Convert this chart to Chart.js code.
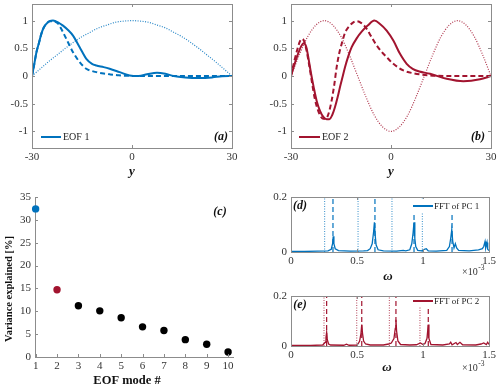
<!DOCTYPE html>
<html>
<head>
<meta charset="utf-8">
<script src="https://cdn.jsdelivr.net/npm/chart.js@4.4.1/dist/chart.umd.min.js"></script>
<style>
  body { margin: 0; background: #fff; }
  #wrap { position: relative; width: 500px; height: 389px; }
  .pn { position: absolute; }
</style>
</head>
<body>
<div id="wrap">
  <div class="pn" style="left:0;top:0"><canvas id="cA" width="250" height="180"></canvas></div>
  <div class="pn" style="left:250px;top:0"><canvas id="cB" width="250" height="180"></canvas></div>
  <div class="pn" style="left:0;top:180px"><canvas id="cC" width="250" height="209"></canvas></div>
  <div class="pn" style="left:250px;top:180px"><canvas id="cD" width="250" height="110"></canvas></div>
  <div class="pn" style="left:250px;top:280px"><canvas id="cE" width="250" height="109"></canvas></div>
</div>
<script>
// ---- data ----
// (a) EOF 1
const gridY = [-30,-27.5,-25,-22.5,-20,-17.5,-15,-12.5,-10,-7.5,-5,-2.5,0,2.5,5,7.5,10,12.5,15,17.5,20,22.5,25,27.5,30];
const eof1Dotted = [0,0.13,0.26,0.38,0.5,0.61,0.71,0.79,0.87,0.92,0.97,0.99,1,0.99,0.97,0.92,0.87,0.79,0.71,0.61,0.5,0.38,0.26,0.13,0];
const eof1SolidX = [-30,-29.3,-28.7,-27.9,-27.2,-26.5,-25.7,-24.7,-23.7,-22.2,-20.7,-19.2,-17.7,-15.7,-13.7,-12,-10.7,-8.5,-6.7,-3.7,-0.7,2,4.5,7.5,10,12.5,16,20,24,27,30];
const eof1SolidV = [0,0.22,0.42,0.6,0.76,0.87,0.94,0.99,1.0,0.97,0.91,0.83,0.73,0.52,0.31,0.22,0.19,0.16,0.13,0.07,0.01,0.0,0.03,0.06,0.04,0.0,-0.025,-0.035,-0.025,-0.005,0];
const eof1DashX = [-30,-29.3,-28.7,-27.9,-27.2,-26.5,-25.7,-24.7,-23.7,-22.1,-20.7,-19.2,-17.7,-15.7,-13.7,-12,-10.7,-8.5,-6.7,-4,-1,2,30];
const eof1DashV = [0,0.22,0.42,0.6,0.76,0.87,0.94,0.99,0.99,0.94,0.79,0.61,0.43,0.25,0.13,0.09,0.07,0.045,0.03,0.012,0.003,0,0];

// (b) EOF 2
const eof2Dotted = [0,0.38,0.71,0.92,1,0.92,0.71,0.38,0,-0.38,-0.71,-0.92,-1,-0.92,-0.71,-0.38,0,0.38,0.71,0.92,1,0.92,0.71,0.38,0];
const eof2SolidX = [-30,-29,-28,-27,-26.2,-25.4,-24.7,-24,-23.2,-22.3,-21.3,-20.3,-19.3,-18.5,-17.6,-16.8,-16,-15.3,-14.5,-13.8,-12.8,-11.8,-10.3,-8.8,-7,-5,-3.3,-1.3,0.7,2.7,4.7,6.5,8.5,11.7,16.7,21.7,26.7,30];
const eof2SolidV = [0,0.2,0.38,0.53,0.59,0.52,0.3,0.05,-0.2,-0.45,-0.63,-0.74,-0.78,-0.78,-0.7,-0.56,-0.38,-0.2,-0.01,0.16,0.36,0.52,0.68,0.8,0.91,1.0,0.94,0.82,0.64,0.4,0.22,0.13,0.08,0.04,-0.05,-0.095,-0.06,0];
const eof2DashX = [-30,-29,-28,-27.3,-26.7,-26,-25.3,-24.5,-23.7,-22.9,-22,-21.2,-20.4,-19.6,-18.8,-17.8,-17,-16.3,-15.5,-14.8,-13.8,-12.8,-11.5,-10.3,-9,-7.5,-6,-4.5,-3,-1.3,0.7,3.7,6.7,11.7,20,30];
const eof2DashV = [0,0.27,0.5,0.63,0.67,0.62,0.45,0.18,-0.12,-0.4,-0.6,-0.72,-0.77,-0.77,-0.69,-0.44,-0.15,0.16,0.42,0.58,0.78,0.88,0.96,0.99,0.96,0.87,0.72,0.57,0.45,0.34,0.22,0.1,0.05,0.01,0,0];

// (c) variance explained
const modeNo = [1,2,3,4,5,6,7,8,9,10];
const varExplained = [32.4,14.7,11.2,10.1,8.6,6.6,5.8,3.8,2.8,1.1];

// (d) FFT of PC 1 (omega in 1e-3)
const pc1W = [0,0.1,0.2,0.28,0.305,0.315,0.32,0.325,0.335,0.36,0.45,0.55,0.58,0.6,0.615,0.625,0.632,0.638,0.645,0.66,0.7,0.8,0.85,0.87,0.9,0.915,0.925,0.932,0.938,0.945,0.96,0.99,1.01,1.025,1.04,1.1,1.18,1.2,1.21,1.218,1.225,1.235,1.245,1.255,1.27,1.35,1.42,1.45,1.46,1.47,1.475,1.485,1.49,1.5];
const pc1A = [0.002,0.002,0.003,0.004,0.01,0.03,0.057,0.03,0.012,0.005,0.003,0.004,0.005,0.012,0.03,0.07,0.108,0.06,0.025,0.008,0.004,0.003,0.006,0.004,0.008,0.03,0.07,0.108,0.05,0.02,0.006,0.004,0.01,0.012,0.004,0.003,0.006,0.02,0.05,0.081,0.04,0.015,0.03,0.015,0.006,0.004,0.008,0.012,0.02,0.038,0.015,0.035,0.01,0.005];
const pc1Dotted = [0.255,0.508,0.765,0.995];
const pc1Dashed = [0.318,0.636,0.932,1.22];

// (e) FFT of PC 2
const pc2W = [0,0.15,0.24,0.26,0.265,0.27,0.275,0.285,0.3,0.4,0.42,0.44,0.5,0.51,0.52,0.53,0.536,0.542,0.55,0.565,0.6,0.7,0.74,0.76,0.78,0.79,0.795,0.8,0.81,0.83,0.9,0.95,0.98,1.0,1.015,1.03,1.04,1.045,1.06,1.15,1.2,1.21,1.22,1.25,1.26,1.28,1.3,1.4,1.44,1.46,1.48,1.49,1.5];
const pc2A = [0.002,0.002,0.004,0.015,0.035,0.055,0.025,0.008,0.004,0.003,0.007,0.003,0.004,0.01,0.02,0.05,0.086,0.05,0.02,0.008,0.004,0.004,0.008,0.012,0.03,0.07,0.105,0.06,0.02,0.006,0.004,0.005,0.012,0.006,0.01,0.03,0.086,0.03,0.006,0.004,0.008,0.015,0.005,0.014,0.006,0.015,0.005,0.004,0.008,0.012,0.006,0.015,0.006];
const pc2Dotted = [0.25,0.498,0.745,0.977];
const pc2Dashed = [0.27,0.536,0.795,1.04];

// ---- styling ----
const BLUE = 'rgb(0,114,189)';
const RED = 'rgb(162,20,47)';
const SERIF = '"Liberation Serif", "Times New Roman", serif';
const TICKC = '#333';

function zip(xs, ys) { return xs.map((x, i) => ({ x: x, y: ys[i] })); }

function curve(xs, ys, color, width, dash) {
  return { data: zip(xs, ys), borderColor: color, borderWidth: width, borderDash: dash || [],
           pointRadius: 0, fill: false, cubicInterpolationMode: 'monotone' };
}
function vline(x, color, width, dash) {
  return { data: [{ x: x, y: 0 }, { x: x, y: 0.2 }], borderColor: color, borderWidth: width,
           borderDash: dash, pointRadius: 0, fill: false, tension: 0 };
}

// boxes, inward ticks, legends and labels
const deco = {
  id: 'deco',
  afterDatasetsDraw(chart, args, o) {
    const ctx = chart.ctx, a = chart.chartArea;
    const xs = chart.scales.x, ys = chart.scales.y;
    ctx.save();
    const seg = (x1, y1, x2, y2) => { ctx.beginPath(); ctx.moveTo(x1, y1); ctx.lineTo(x2, y2); ctx.stroke(); };
    ctx.strokeStyle = '#8c8c8c';
    ctx.lineWidth = 1;
    if (o.box) {
      ctx.strokeRect(Math.round(a.left) + 0.5, Math.round(a.top) + 0.5,
                     Math.round(a.right - a.left), Math.round(a.bottom - a.top));
    }
    if (o.ticks) {
      xs.ticks.forEach(t => {
        const p = Math.round(xs.getPixelForValue(t.value)) + 0.5;
        seg(p, a.bottom, p, a.bottom - 3);
        if (o.box) seg(p, a.top, p, a.top + 3);
      });
      ys.ticks.forEach(t => {
        const p = Math.round(ys.getPixelForValue(t.value)) + 0.5;
        seg(a.left, p, a.left + 3, p);
        if (o.box) seg(a.right, p, a.right - 3, p);
      });
    }
    if (o.legend) {
      const L = o.legend;
      if (L.bg) { ctx.fillStyle = '#fff'; ctx.fillRect(L.bg[0], L.bg[1], L.bg[2], L.bg[3]); }
      ctx.strokeStyle = L.color; ctx.lineWidth = L.width;
      seg(L.x1, L.y, L.x2, L.y);
      ctx.fillStyle = '#222'; ctx.font = L.font; ctx.textAlign = 'left'; ctx.textBaseline = 'middle';
      ctx.fillText(L.text, L.tx, L.y + 0.5);
    }
    (o.texts || []).forEach(t => {
      ctx.save();
      ctx.fillStyle = t.color || '#111';
      ctx.font = t.font;
      ctx.textAlign = t.align || 'center';
      ctx.textBaseline = 'middle';
      ctx.translate(t.x, t.y);
      if (t.rot) ctx.rotate(t.rot);
      ctx.fillText(t.t, 0, 0);
      if (t.sup) {
        const w = ctx.measureText(t.t).width;
        ctx.font = t.supFont;
        ctx.textAlign = 'left';
        ctx.fillText(t.sup, (t.align === 'left' ? w : w / 2) + 0.5, -4);
      }
      ctx.restore();
    });
    ctx.restore();
  }
};

function axis(min, max, vals, size, isX, extra) {
  const s = {
    type: 'linear', min: min, max: max,
    grid: { display: false, drawTicks: false },
    border: { display: false },
    afterBuildTicks: sc => { sc.ticks = vals.map(v => ({ value: v })); },
    afterFit: sc => {
      if (isX) sc.height = size; else sc.width = size;
      sc.paddingTop = 0; sc.paddingBottom = 0; sc.paddingLeft = 0; sc.paddingRight = 0;
    },
    ticks: { font: { family: SERIF, size: 11 }, color: TICKC, padding: isX ? 3 : 4,
             maxRotation: 0, autoSkip: false, callback: v => String(v) }
  };
  return Object.assign(s, extra || {});
}

function makeChart(id, datasets, scales, pad, deco_opts) {
  return new Chart(document.getElementById(id), {
    type: 'line',
    data: { datasets: datasets },
    options: {
      responsive: false, animation: false, events: [],
      layout: { padding: pad },
      plugins: { legend: { display: false }, tooltip: { enabled: false }, deco: deco_opts },
      scales: scales
    },
    plugins: [deco]
  });
}

const eofTicks = [-1, -0.5, 0, 0.5, 1];
const yTitle = 'italic bold 13px ' + SERIF;
const pLab = 'italic bold 12px ' + SERIF;
const legFont = '10px ' + SERIF;

// (a)
makeChart('cA', [
  curve(eof1SolidX, eof1SolidV, BLUE, 2),
  curve(eof1DashX, eof1DashV, BLUE, 2, [5, 3]),
  curve(gridY, eof1Dotted, 'rgba(0,114,189,0.85)', 1.2, [1, 1.5])
], {
  x: axis(-30, 30, [-30, 0, 30], 32, true),
  y: axis(-1.3, 1.3, eofTicks, 32, false)
}, { left: 0, top: 4, right: 18, bottom: 0 }, {
  box: true, ticks: true,
  legend: { x1: 41, x2: 61, y: 137, color: BLUE, width: 2, text: 'EOF 1', tx: 63, font: legFont },
  texts: [
    { t: '(a)', x: 221, y: 137, font: pLab },
    { t: 'y', x: 132, y: 172, font: yTitle }
  ]
});

// (b)
makeChart('cB', [
  curve(eof2SolidX, eof2SolidV, RED, 2),
  curve(eof2DashX, eof2DashV, RED, 2, [5, 3]),
  curve(gridY, eof2Dotted, 'rgba(162,20,47,0.85)', 1.2, [1, 1.5])
], {
  x: axis(-30, 30, [-30, 0, 30], 32, true),
  y: axis(-1.3, 1.3, eofTicks, 41, false)
}, { left: 0, top: 4, right: 9, bottom: 0 }, {
  box: true, ticks: true,
  legend: { x1: 49, x2: 70, y: 137, color: RED, width: 2, text: 'EOF 2', tx: 72, font: legFont },
  texts: [
    { t: '(b)', x: 228, y: 137, font: pLab },
    { t: 'y', x: 141, y: 172, font: yTitle }
  ]
});

// (c)
const pointColors = modeNo.map((m, i) => i === 0 ? BLUE : (i === 1 ? RED : '#000'));
makeChart('cC', [{
  data: zip(modeNo, varExplained), showLine: false, pointRadius: 3.7, pointBorderWidth: 0,
  pointBackgroundColor: pointColors, pointBorderColor: pointColors, clip: false
}], {
  x: axis(0.97, 10.23, modeNo, 32, true, { border: { display: true, color: '#8c8c8c' } }),
  y: axis(0, 35, [0, 5, 10, 15, 20, 25, 30, 35], 35, false, { border: { display: true, color: '#8c8c8c' } })
}, { left: 0, top: 17, right: 17, bottom: 0 }, {
  box: false, ticks: true,
  texts: [
    { t: '(c)', x: 220, y: 32, font: pLab },
    { t: 'EOF mode #', x: 127, y: 201, font: 'bold 12.5px ' + SERIF },
    { t: 'Variance explained [%]', x: 9, y: 109, font: 'bold 10.5px ' + SERIF, rot: -Math.PI / 2 }
  ]
});

// (d)
const omegaTicks = [0, 0.5, 1, 1.5];
makeChart('cD', [
  curve(pc1W, pc1A, BLUE, 1.3),
  ...pc1Dashed.map(w => vline(w, BLUE, 1.2, [5, 3])),
  ...pc1Dotted.map(w => vline(w, 'rgba(0,114,189,0.8)', 1, [1, 1.5]))
].map(d => Object.assign(d, { cubicInterpolationMode: 'default', tension: 0 })), {
  x: axis(0, 1.5, omegaTicks, 38, true),
  y: axis(0, 0.2, [0, 0.2], 41, false)
}, { left: 0, top: 17, right: 11, bottom: 0 }, {
  box: true, ticks: true,
  legend: { x1: 163, x2: 183, y: 26, color: BLUE, width: 2, text: 'FFT of PC 1', tx: 184,
            font: '9px ' + SERIF, bg: [161, 19, 76, 14] },
  texts: [
    { t: '(d)', x: 50, y: 26, font: pLab },
    { t: 'ω', x: 138, y: 97, font: yTitle },
    { t: '×10', x: 212, y: 92, font: '10px ' + SERIF, color: TICKC, align: 'left', sup: '-3', supFont: '7.5px ' + SERIF }
  ]
});

// (e)
makeChart('cE', [
  curve(pc2W, pc2A, RED, 1.3),
  ...pc2Dashed.map(w => vline(w, RED, 1.2, [5, 3])),
  ...pc2Dotted.map(w => vline(w, 'rgba(162,20,47,0.8)', 1, [1, 1.5]))
].map(d => Object.assign(d, { cubicInterpolationMode: 'default', tension: 0 })), {
  x: axis(0, 1.5, omegaTicks, 43, true),
  y: axis(0, 0.2, [0, 0.2], 41, false)
}, { left: 0, top: 16, right: 11, bottom: 0 }, {
  box: true, ticks: true,
  legend: { x1: 163, x2: 183, y: 21, color: RED, width: 2, text: 'FFT of PC 2', tx: 184,
            font: '9px ' + SERIF, bg: [161, 17, 76, 10] },
  texts: [
    { t: '(e)', x: 50, y: 25, font: pLab },
    { t: 'ω', x: 137, y: 88, font: yTitle },
    { t: '×10', x: 212, y: 88, font: '10px ' + SERIF, color: TICKC, align: 'left', sup: '-3', supFont: '7.5px ' + SERIF }
  ]
});
</script>
</body>
</html>
